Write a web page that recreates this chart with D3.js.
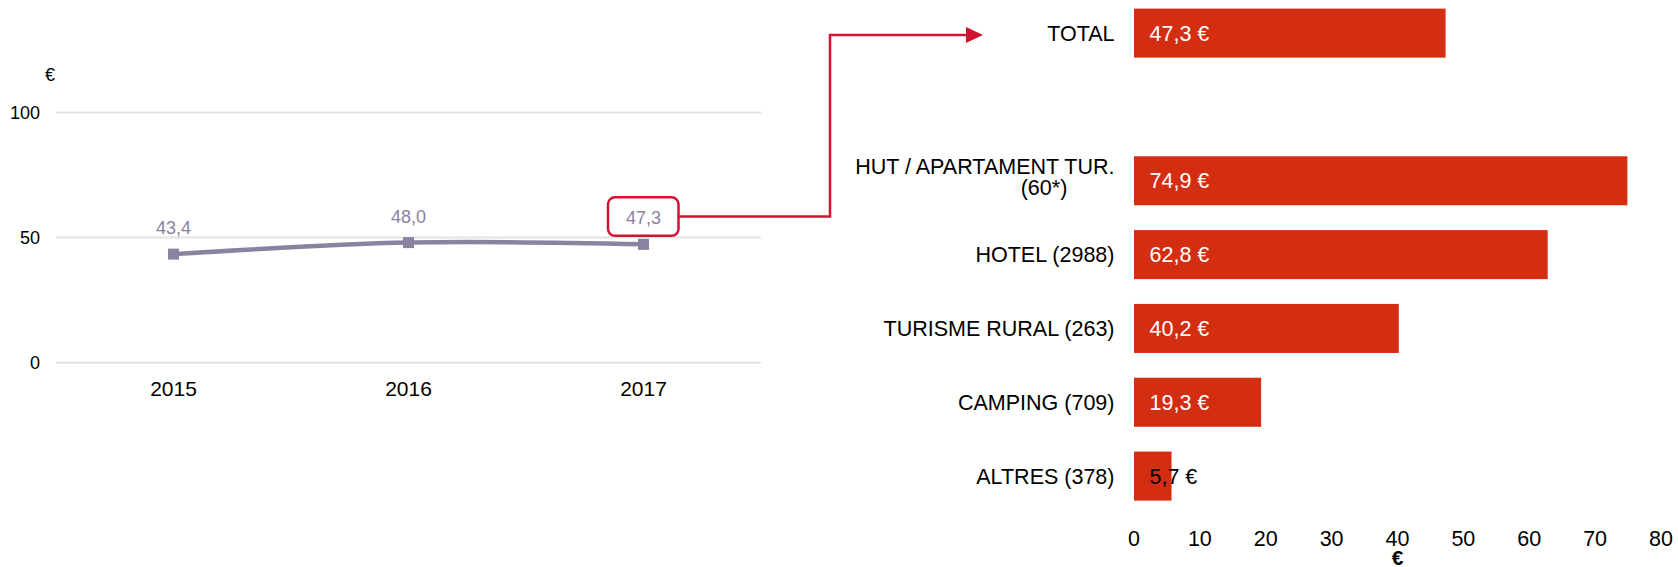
<!DOCTYPE html>
<html>
<head>
<meta charset="utf-8">
<script src="https://cdn.jsdelivr.net/npm/d3@7"></script>
<style>
  html, body { margin: 0; padding: 0; background: #ffffff; }
  svg { display: block; font-family: "Liberation Sans", Arial, sans-serif; }
</style>
</head>
<body>
<svg id="chart" width="1678" height="567"></svg>
<script>
// ---------- Data ----------
const years = ["2015", "2016", "2017"];
const yearValues = [43.4, 48.0, 47.3];
const lineTicks = [0, 50, 100];

const categories = ["TOTAL", " ", "HUT / APARTAMENT TUR.", "HOTEL (2988)", "TURISME RURAL (263)", "CAMPING (709)", "ALTRES (378)"];
const categorySub = ["", "", "(60*)", "", "", "", ""];
const barValues = [47.3, null, 74.9, 62.8, 40.2, 19.3, 5.7];
const barTicks = [0, 10, 20, 30, 40, 50, 60, 70, 80];

// ---------- Styles ----------
const lineColor = "#8a82a0";
const barColor = "#d42e12";
const accent = "#d0132f";
const gridColor = "#e3e3e3";
const fmt = v => d3.format(".1f")(v).replace(".", ",");

const svg = d3.select("#chart");

// ---------- Left: line chart ----------
const xL = d3.scaleBand().domain(years).range([56, 761]).padding(0);
const yL = d3.scaleLinear().domain([0, 100]).range([362.8, 112.4]);

const gL = svg.append("g");
gL.selectAll("line.grid").data(lineTicks).join("line")
  .attr("x1", xL.range()[0]).attr("x2", xL.range()[1])
  .attr("y1", d => yL(d)).attr("y2", d => yL(d))
  .attr("stroke", gridColor).attr("stroke-width", 2);

gL.selectAll("text.ytick").data(lineTicks).join("text")
  .attr("x", 40).attr("y", d => yL(d) + 6.5)
  .attr("text-anchor", "end").attr("font-size", 18).attr("fill", "#000")
  .text(d => d);

gL.append("text").attr("x", 50).attr("y", 80.5).attr("text-anchor", "middle")
  .attr("font-size", 18).attr("fill", "#000").text("€");

gL.selectAll("text.xtick").data(years).join("text")
  .attr("x", d => xL(d) + xL.bandwidth() / 2).attr("y", 395.5)
  .attr("text-anchor", "middle").attr("font-size", 21).attr("fill", "#000")
  .text(d => d);

const pts = years.map((y, i) => [xL(y) + xL.bandwidth() / 2, yL(yearValues[i])]);
gL.append("path").attr("d", d3.line().curve(d3.curveCatmullRom.alpha(0.5))(pts))
  .attr("fill", "none").attr("stroke", lineColor).attr("stroke-width", 4.5);

gL.selectAll("rect.mk").data(pts).join("rect")
  .attr("x", d => d[0] - 5.5).attr("y", d => d[1] - 5.5)
  .attr("width", 11).attr("height", 11).attr("fill", lineColor);

gL.selectAll("text.val").data(pts).join("text")
  .attr("x", d => d[0]).attr("y", d => d[1] - 20)
  .attr("text-anchor", "middle").attr("font-size", 18).attr("fill", lineColor)
  .text((d, i) => fmt(yearValues[i]));

// highlight box around last value
const last = pts[pts.length - 1];
const boxL = last[0] - 35.5, boxR = last[0] + 35, boxT = last[1] - 47, boxB = last[1] - 8.5;
gL.append("rect").attr("x", boxL).attr("y", boxT)
  .attr("width", boxR - boxL).attr("height", boxB - boxT)
  .attr("rx", 7).attr("ry", 7)
  .attr("fill", "none").attr("stroke", accent).attr("stroke-width", 2.5);

// ---------- Right: bar chart ----------
const xR = d3.scaleLinear().domain([0, 80]).range([1134, 1661]);
const yR = d3.scaleBand().domain(categories).range([8.6, 500.6]).paddingInner(0.336).paddingOuter(0);

// connector arrow
const totalY = yR("TOTAL") + yR.bandwidth() / 2 + 2;
const midY = (boxT + boxB) / 2;
const elbowX = 830, tipX = 983;
svg.append("path")
  .attr("d", `M${boxR},${midY} H${elbowX} V${totalY} H${tipX - 16}`)
  .attr("fill", "none").attr("stroke", accent).attr("stroke-width", 2.5);
svg.append("path")
  .attr("d", `M${tipX},${totalY} L${tipX - 17},${totalY - 8} L${tipX - 17},${totalY + 8} Z`)
  .attr("fill", accent);

const gR = svg.append("g");
const barData = categories.map((c, i) => ({ c, sub: categorySub[i], v: barValues[i] })).filter(d => d.v !== null);
const fsR = 21.5;

gR.selectAll("rect.bar").data(barData).join("rect")
  .attr("x", xR(0)).attr("y", d => yR(d.c))
  .attr("width", d => xR(d.v) - xR(0)).attr("height", yR.bandwidth())
  .attr("fill", barColor);

gR.selectAll("text.cat").data(barData).join("text")
  .attr("x", 1114.5)
  .attr("y", d => yR(d.c) + yR.bandwidth() / 2 + (d.sub ? -6.5 : 7.5))
  .attr("text-anchor", "end").attr("font-size", fsR).attr("fill", "#000")
  .text(d => d.c);

gR.selectAll("text.sub").data(barData.filter(d => d.sub)).join("text")
  .attr("x", 1044)
  .attr("y", d => yR(d.c) + yR.bandwidth() / 2 + 14)
  .attr("text-anchor", "middle").attr("font-size", fsR).attr("fill", "#000")
  .text(d => d.sub);

gR.selectAll("text.bval").data(barData).join("text")
  .attr("x", xR(0) + 15.5)
  .attr("y", d => yR(d.c) + yR.bandwidth() / 2 + 7.5)
  .attr("font-size", fsR).attr("fill", d => d.v < 10 ? "#000" : "#fff")
  .text(d => fmt(d.v) + " €");

gR.selectAll("text.xt").data(barTicks).join("text")
  .attr("x", d => xR(d)).attr("y", 546)
  .attr("text-anchor", "middle").attr("font-size", fsR).attr("fill", "#000")
  .text(d => d);

gR.append("text").attr("x", (xR(0) + xR(80)) / 2).attr("y", 564.5)
  .attr("text-anchor", "middle").attr("font-size", 21).attr("font-weight", "bold")
  .attr("fill", "#000").text("€");
</script>
</body>
</html>
